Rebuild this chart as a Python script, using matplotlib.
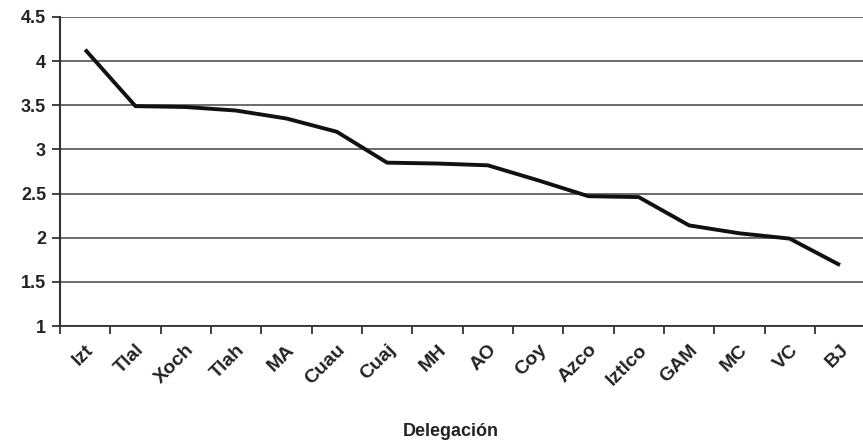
import matplotlib
matplotlib.use("Agg")
import matplotlib.pyplot as plt
import numpy as np

categories = ["Izt", "Tlal", "Xoch", "Tlah", "MA", "Cuau", "Cuaj", "MH", "AO",
              "Coy", "Azco", "Iztlco", "GAM", "MC", "VC", "BJ"]
values = [4.13, 3.49, 3.48, 3.44, 3.35, 3.20, 2.85, 2.84, 2.82,
          2.65, 2.47, 2.46, 2.14, 2.05, 1.99, 1.69]
yticks = [1, 1.5, 2, 2.5, 3, 3.5, 4, 4.5]
ytick_labels = ["1", "1.5", "2", "2.5", "3", "3.5", "4", "4.5"]

plt.rcParams['font.family'] = ['Liberation Sans', 'DejaVu Sans']

fig = plt.figure(figsize=(8.63, 4.46), dpi=100)
ax = fig.add_axes([0.0695, 0.269, 0.933, 0.693])

x = np.arange(len(categories)) + 0.5
ax.plot(x, values, color="#111111", lw=2.8, solid_joinstyle="round",
        solid_capstyle="butt", zorder=3)

ax.set_xlim(0, len(categories))
ax.set_ylim(1, 4.5)
ax.set_yticks(yticks)
ax.set_yticklabels(ytick_labels, fontsize=13, fontweight="bold", color="#222222")
ax.yaxis.grid(True, color="#444444", lw=1.1)
ax.set_axisbelow(True)

ax.set_xticks(np.arange(len(categories) + 1))
ax.set_xticklabels([])
ax.set_xticks(x, minor=True)
ax.set_xticklabels(categories, minor=True, rotation=45, ha="right",
                   rotation_mode="anchor", fontsize=14, fontweight="bold",
                   color="#222222")
ax.tick_params(axis="x", which="minor", length=0, pad=11)
ax.tick_params(axis="x", which="major", length=6, width=1.3, direction="out", color="#333333")
ax.tick_params(axis="y", length=6, width=1.3, direction="out", color="#333333", pad=4)

for s in ["top", "right"]:
    ax.spines[s].set_visible(False)
ax.spines["left"].set_color("#333333")
ax.spines["left"].set_linewidth(1.5)
ax.spines["bottom"].set_color("#333333")
ax.spines["bottom"].set_linewidth(1.3)

ax.set_xlabel("Delegación", fontsize=13, fontweight="bold", color="#222222",
              va="center")
ax.xaxis.set_label_coords(0.485, -0.34)

fig.savefig("out.png", dpi=100)
